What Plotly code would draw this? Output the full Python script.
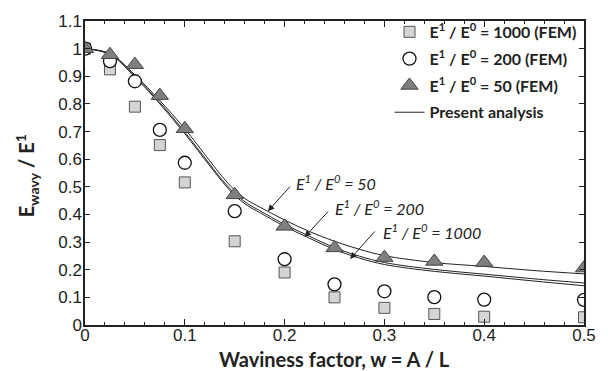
import plotly.graph_objects as go

# FEM data
w_fem = [0, 0.025, 0.05, 0.075, 0.1, 0.15, 0.2, 0.25, 0.3, 0.35, 0.4, 0.5]
fem_1000 = [1.0, 0.925, 0.79, 0.651, 0.516, 0.303, 0.19, 0.10, 0.062, 0.04, 0.03, 0.028]
fem_200 = [1.0, 0.955, 0.882, 0.706, 0.587, 0.412, 0.238, 0.147, 0.122, 0.101, 0.092, 0.091]
fem_50 = [1.0, 0.978, 0.942, 0.83, 0.71, 0.471, 0.357, 0.279, 0.244, 0.23, 0.226, 0.206]

# Present analysis curves
w_ana = [0, 0.025, 0.05, 0.075, 0.1, 0.125, 0.1375, 0.15, 0.1625, 0.175, 0.2, 0.225, 0.25, 0.275, 0.3, 0.35, 0.4, 0.45, 0.5]
ana_50 = [1.0, 0.982, 0.905, 0.812, 0.71, 0.594, 0.537, 0.488, 0.452, 0.427, 0.38, 0.338, 0.303, 0.274, 0.251, 0.226, 0.212, 0.197, 0.185]
ana_200 = [1.0, 0.98, 0.9, 0.805, 0.698, 0.582, 0.525, 0.476, 0.44, 0.414, 0.364, 0.321, 0.28, 0.249, 0.226, 0.201, 0.184, 0.167, 0.152]
ana_1000 = [1.0, 0.979, 0.897, 0.8, 0.692, 0.576, 0.519, 0.469, 0.433, 0.407, 0.357, 0.314, 0.273, 0.242, 0.219, 0.194, 0.177, 0.159, 0.142]

x_ticks = [0, 0.1, 0.2, 0.3, 0.4, 0.5]
x_ticklabels = ["0", "0.1", "0.2", "0.3", "0.4", "0.5"]
y_ticks = [0, 0.1, 0.2, 0.3, 0.4, 0.5, 0.6, 0.7, 0.8, 0.9, 1.0, 1.1]
y_ticklabels = ["0", "0.1", "0.2", "0.3", "0.4", "0.5", "0.6", "0.7", "0.8", "0.9", "1", "1.1"]

LEG_FONT = dict(family="Lato", size=16, color="#222")
fig = go.Figure()

for i, (vals, name) in enumerate([(ana_1000, "1000"), (ana_200, "200"), (ana_50, "50")]):
    fig.add_trace(go.Scatter(
        x=w_ana, y=vals, mode="lines", line=dict(color="#222", width=1, shape="spline", smoothing=1.0),
        name="<b>Present analysis</b>", showlegend=(i == 0), legendrank=4, legendgroup="ana",
        hoverinfo="skip"))

fig.add_trace(go.Scatter(
    x=w_fem, y=fem_1000, mode="markers", name="<b>E<sup>1</sup> / E<sup>0</sup> = 1000 (FEM)</b>",
    marker=dict(symbol="square", size=11, color="#d4d4d4", line=dict(color="#555", width=1)),
    legendrank=1, legendgroup="g1"))
fig.add_trace(go.Scatter(
    x=w_fem, y=fem_200, mode="markers", name="<b>E<sup>1</sup> / E<sup>0</sup> = 200 (FEM)</b>",
    marker=dict(symbol="circle", size=13, color="white", line=dict(color="#111", width=1.3)),
    legendrank=2, legendgroup="g2"))
fig.add_trace(go.Scatter(
    x=w_fem, y=fem_50, mode="markers", name="<b>E<sup>1</sup> / E<sup>0</sup> = 50 (FEM)</b>",
    marker=dict(symbol="triangle-up", size=15, color="#7f7f7f", line=dict(color="#444", width=1)),
    legendrank=3, legendgroup="g3"))

# curve labels with arrows
labels = [
    ("<i>E<sup>1</sup> / E<sup>0</sup> = 50</i>", 0.209, 0.516, 0.2067, 0.506, 0.1833, 0.412),
    ("<i>E<sup>1</sup> / E<sup>0</sup> = 200</i>", 0.248, 0.424, 0.245, 0.416, 0.22, 0.318),
    ("<i>E<sup>1</sup> / E<sup>0</sup> = 1000</i>", 0.2967, 0.338, 0.2917, 0.344, 0.2657, 0.239),
]
for txt, tx, ty, ax_, ay_, hx, hy in labels:
    fig.add_annotation(x=tx, y=ty, xref="x", yref="y", text=txt, showarrow=False,
                       xanchor="left", yanchor="middle", font=dict(family="Lato", size=16, color="#222"))
    fig.add_annotation(x=hx, y=hy, ax=ax_, ay=ay_, xref="x", yref="y", axref="x", ayref="y",
                       text="", showarrow=True, arrowhead=2, arrowsize=1.3, arrowwidth=1, arrowcolor="#222")

# axis titles
fig.add_annotation(x=0.5, y=-0.113, xref="paper", yref="paper", text="<b>Waviness factor, w = A / L</b>",
                   showarrow=False, xanchor="center", yanchor="middle",
                   font=dict(family="Lato", size=20, color="#222"))
fig.add_annotation(x=-0.116, y=0.49, xref="paper", yref="paper", text="<b>E<sub>wavy</sub> / E<sup>1</sup></b>",
                   showarrow=False, textangle=-90, xanchor="center", yanchor="middle",
                   font=dict(family="Lato", size=20, color="#222"))

axis_common = dict(showgrid=False, zeroline=False, showline=True, linecolor="#222", linewidth=1.5,
                   mirror="allticks", ticks="inside", tickcolor="#222", tickwidth=1,
                   tickfont=dict(family="Liberation Sans", size=17, color="#222"))
fig.update_xaxes(range=[0, 0.5], tickvals=x_ticks, ticktext=x_ticklabels, ticklen=6,
                 ticklabelstandoff=-6,
                 minor=dict(dtick=0.02, ticks="inside", ticklen=3, tickcolor="#222"), **axis_common)
fig.update_yaxes(range=[0, 1.1], tickvals=y_ticks, ticktext=y_ticklabels, ticklen=5,
                 ticklabelstandoff=-2, **axis_common)

fig.update_layout(
    width=608, height=371, margin=dict(l=85, r=23, t=14, b=46),
    paper_bgcolor="white", plot_bgcolor="white",
    legend=dict(x=0.995, y=1.02, xanchor="right", yanchor="top", bgcolor="rgba(0,0,0,0)",
                font=LEG_FONT, itemwidth=30, tracegroupgap=3),
)
fig.write_html("out.html")
